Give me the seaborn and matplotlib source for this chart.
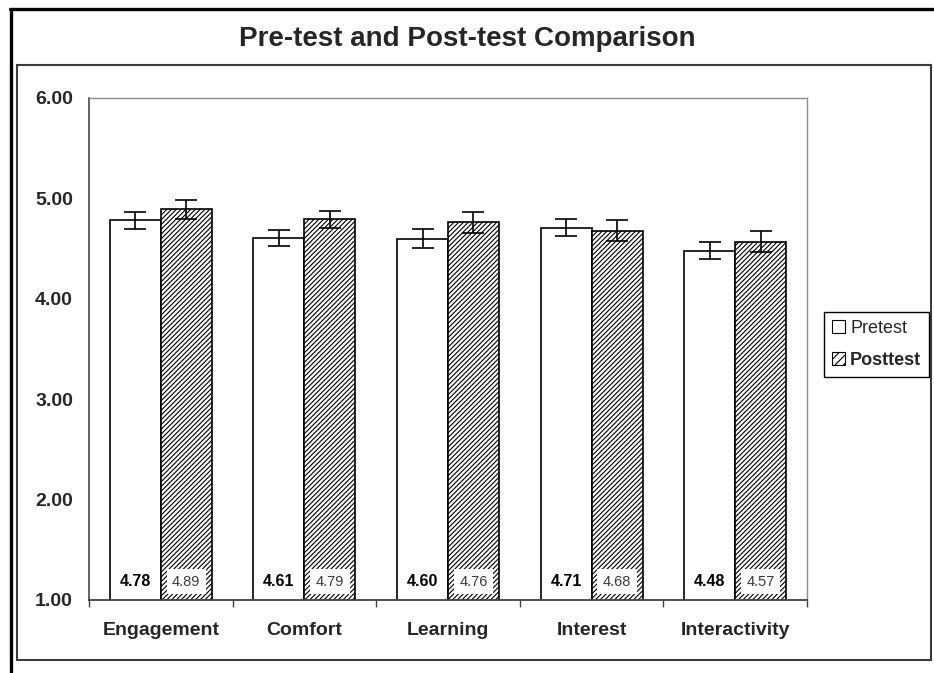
import pandas as pd
import matplotlib.pyplot as plt
import seaborn as sns
from matplotlib.patches import Patch, Rectangle
from matplotlib.lines import Line2D

categories = ["Engagement", "Comfort", "Learning", "Interest", "Interactivity"]
pretest = [4.78, 4.61, 4.60, 4.71, 4.48]
posttest = [4.89, 4.79, 4.76, 4.68, 4.57]
pretest_err = [0.083, 0.080, 0.093, 0.085, 0.087]
posttest_err = [0.095, 0.088, 0.100, 0.108, 0.108]
y_ticks = [1.0, 2.0, 3.0, 4.0, 5.0, 6.0]

df = pd.DataFrame({
    "category": categories * 2,
    "score": pretest + posttest,
    "test": ["Pretest"] * len(categories) + ["Posttest"] * len(categories),
})

sns.set_style("white")
plt.rcParams["font.family"] = ["Liberation Sans", "DejaVu Sans"]
plt.rcParams["hatch.linewidth"] = 0.8
plt.rcParams["hatch.color"] = "black"

W, H = 934, 673
fig = plt.figure(figsize=(W / 100, H / 100), dpi=100)
ax = fig.add_axes([89 / W, 1 - 600 / H, (807 - 89) / W, (600 - 98) / H])

sns.barplot(
    data=df, x="category", y="score", hue="test",
    palette=["white", "white"], edgecolor="black", linewidth=1.2,
    width=0.71, gap=0, errorbar=None, legend=False, ax=ax,
)

pre_bars, post_bars = ax.containers[0], ax.containers[1]
for bar in post_bars:
    bar.set_hatch("///////")

# error bars and value labels
for bars, vals, errs, bold in [
    (pre_bars, pretest, pretest_err, True),
    (post_bars, posttest, posttest_err, False),
]:
    xs = [b.get_x() + b.get_width() / 2 for b in bars]
    ax.errorbar(xs, vals, yerr=errs, fmt="none", ecolor="black",
                elinewidth=1.2, capsize=8, capthick=1.2, zorder=5)
    for x, v in zip(xs, vals):
        if bold:
            ax.text(x, 1.18, f"{v:.2f}", ha="center", va="center",
                    fontsize=11.5, fontweight="bold", color="black", zorder=6)
        else:
            ax.text(x, 1.18, f"{v:.2f}", ha="center", va="center",
                    fontsize=10.5, color="#3a3a3a", zorder=6,
                    bbox=dict(facecolor="white", edgecolor="none", pad=4))

ax.set_ylim(1, 6)
ax.set_yticks(y_ticks)
ax.set_yticklabels([f"{t:.2f}" for t in y_ticks], fontsize=14, fontweight="bold")
ax.tick_params(axis="y", length=0, pad=11.5)

ax.set_xlim(-0.5, len(categories) - 0.5)
ax.set_xticks(range(len(categories)))
ax.set_xticklabels(categories, fontsize=14, fontweight="bold")
ax.set_xticks([i - 0.5 for i in range(len(categories) + 1)], minor=True)
ax.tick_params(axis="x", which="major", length=0, pad=16)
ax.tick_params(axis="x", which="minor", length=5, width=1, color="#404040", direction="out", bottom=True)
ax.set_xlabel("")
ax.set_ylabel("")

for side in ["top", "right"]:
    ax.spines[side].set_color("#8c8c8c")
    ax.spines[side].set_linewidth(1.0)
ax.spines["left"].set_color("#555555")
ax.spines["left"].set_linewidth(1.3)
ax.spines["bottom"].set_color("#404040")
ax.spines["bottom"].set_linewidth(1.3)

handles = [
    Patch(facecolor="white", edgecolor="black", linewidth=0.8),
    Patch(facecolor="white", edgecolor="black", linewidth=0.8, hatch="////"),
]
leg = fig.legend(handles, ["Pretest", "Posttest"], loc="upper left",
                 bbox_to_anchor=(824 / W, 1 - 312 / H), fontsize=13,
                 handlelength=0.7, handleheight=0.7, handletextpad=0.3,
                 labelspacing=0.8, borderpad=0.45, borderaxespad=0,
                 fancybox=False, framealpha=1, edgecolor="black")
leg.get_frame().set_linewidth(1.0)
leg.get_texts()[1].set_fontweight("bold")

# chart frames
fig.add_artist(Rectangle((17 / W, 1 - 660 / H), (931 - 17) / W, (660 - 65) / H,
                         transform=fig.transFigure, fill=False,
                         edgecolor="#3c3c3c", linewidth=1.5))
fig.add_artist(Line2D([10 / W, 1], [1 - 9 / H, 1 - 9 / H],
                      transform=fig.transFigure, color="black", linewidth=2.4))
fig.add_artist(Line2D([11 / W, 11 / W], [0, 1 - 9 / H],
                      transform=fig.transFigure, color="black", linewidth=2.4))

fig.text(467 / W, 1 - 39 / H, "Pre-test and Post-test Comparison",
         ha="center", va="center", fontsize=20, fontweight="bold")

fig.savefig("out.png", dpi=100, facecolor="white")
